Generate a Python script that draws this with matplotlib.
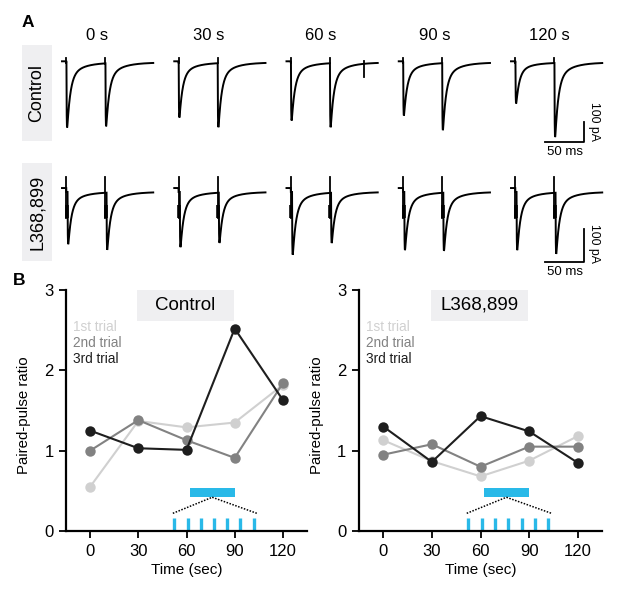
import numpy as np
import matplotlib
matplotlib.use("Agg")
import matplotlib.pyplot as plt
from matplotlib.patches import Rectangle

plt.rcParams['font.family'] = ['Liberation Sans', 'DejaVu Sans']

# ---- panel A data: EPSC peak amplitudes (pA)
time_labels = ['0 s', '30 s', '60 s', '90 s', '120 s']
ctrl_amp1 = [325, 275, 290, 265, 205]
ctrl_amp2 = [315, 320, 320, 335, 370]
l368_amp1 = [158, 167, 190, 176, 176]
l368_amp2 = [173, 152, 152, 176, 185]
# stray artifact in the control 60 s sweep: (column, ms into sweep, pA)
ctrl_glitch = (2, 99.0, -70.0)

# ---- panel B data: paired-pulse ratios
times = [0, 30, 60, 90, 120]
ctrl_ppr = {
    '1st trial': [0.55, 1.37, 1.29, 1.35, 1.82],
    '2nd trial': [1.00, 1.38, 1.13, 0.91, 1.84],
    '3rd trial': [1.25, 1.03, 1.01, 2.52, 1.63],
}
l368_ppr = {
    '1st trial': [1.13, 0.87, 0.68, 0.875, 1.18],
    '2nd trial': [0.95, 1.08, 0.80, 1.05, 1.05],
    '3rd trial': [1.30, 0.86, 1.43, 1.24, 0.85],
}
trial_colors = ['#d0d0d0', '#828282', '#1e1e1e']
stim_block = (62, 90)
stim_pulses = [52.5, 60.8, 69.0, 77.2, 85.4, 93.6, 101.8]

W, H = 617, 590
fig = plt.figure(figsize=(W / 100, H / 100), dpi=100)


def fx(px):
    return px / W


def fy(py):
    return 1 - py / H


# ---------------- panel A ----------------
PX_MS = 0.78          # pixels per ms
DT = 0.05
T_END = 117.0
TS1, TS2 = 5.5, 55.5
col_start = [(62 + i * 112.25) / PX_MS for i in range(5)]


def kernel(s, tr=0.3):
    return (0.8 * np.exp(-s / 4.0) + 0.2 * np.exp(-s / 17.0)) * (1 - np.exp(-s / tr))


KMAX = kernel(np.arange(0, 20, 0.01)).max()


def epsc(t, onset):
    s = np.clip(t - onset, 0, None)
    k = kernel(s) / KMAX
    k[t < onset] = 0
    return k


def draw_row(ax, amp1, amp2, delay, pre_off, art_up, art_block):
    t = np.arange(0, T_END, DT)
    for i in range(5):
        y = -(amp1[i] * epsc(t, TS1 + delay) + amp2[i] * epsc(t, TS2 + delay))
        y[t < TS1] = pre_off
        x0 = col_start[i]
        ax.plot(x0 + t, y, color='black', lw=1.4, solid_joinstyle='miter')
        for ts in (TS1, TS2):
            lo = art_block[1] if art_block else 0
            ax.plot([x0 + ts, x0 + ts], [lo, art_up], color='black', lw=1.3)
            if art_block:
                ax.plot([x0 + ts + 0.9, x0 + ts + 0.9], art_block,
                        color='black', lw=2.6, solid_capstyle='butt')


# control row axes (5 pA per pixel, baseline at y=62.5 px)
axA1 = fig.add_axes([0, fy(160), 1, 120 / H])
axA1.set_xlim(0, W / PX_MS)
axA1.set_ylim(-(160 - 62.5) * 5, (62.5 - 40) * 5)
axA1.axis('off')
draw_row(axA1, ctrl_amp1, ctrl_amp2, 0.2, 6, 25, None)
gc, gt, ga = ctrl_glitch
axA1.plot([col_start[gc] + gt] * 2, [ga, 6], color='black', lw=1.3)

# L368,899 row axes (3.03 pA per pixel, baseline at y=192 px)
pa = 100 / 33
axA2 = fig.add_axes([0, fy(285), 1, 125 / H])
axA2.set_xlim(0, W / PX_MS)
axA2.set_ylim(-(285 - 192) * pa, (192 - 160) * pa)
axA2.axis('off')
draw_row(axA2, l368_amp1, l368_amp2, 1.6, 12, 45, (-38, -80))

# scale bars
xb = 584 / PX_MS
axA1.plot([xb - 50, xb, xb], [-(142 - 62.5) * 5] * 2 + [-(142 - 62.5) * 5 + 100],
          color='black', lw=1.3)
axA2.plot([xb - 50, xb, xb], [-(262 - 192) * pa] * 2 + [-(262 - 192) * pa + 100],
          color='black', lw=1.3)
for yc, yt in [(121, 152), (243, 272)]:
    fig.text(fx(594), fy(yc), '100 pA', rotation=-90, ha='center', va='center',
             fontsize=8.8)
    fig.text(fx(565), fy(yt), '50 ms', ha='center', va='center', fontsize=9.5)

# column headers
for lab, xc in zip(time_labels, [97.5, 209, 320.5, 435, 549]):
    fig.text(fx(xc), fy(36), lab, ha='center', va='center', fontsize=12)

# row label boxes
for lab, y0, y1 in [('Control', 45, 141), ('L368,899', 163, 261)]:
    fig.add_artist(Rectangle((fx(22), fy(y1)), 30 / W, (y1 - y0) / H,
                             transform=fig.transFigure, color='#efeff1', lw=0))
    fig.text(fx(37), fy((y0 + y1) / 2), lab, rotation=90, ha='center',
             va='center', fontsize=13)

fig.text(fx(28), fy(22.5), 'A', ha='center', va='center', fontsize=12.5,
         fontweight='bold')
fig.text(fx(19.5), fy(281), 'B', ha='center', va='center', fontsize=12.5,
         fontweight='bold')


# ---------------- panel B ----------------
def ppr_panel(ax, data, title):
    for (lab, vals), c in zip(data.items(), trial_colors):
        ax.plot(times, vals, color=c, lw=1.5, marker='o', markersize=7.5,
                markeredgewidth=0, clip_on=False)
    for i, (lab, c) in enumerate(zip(data.keys(), trial_colors)):
        ax.text(0.03, 0.846 - i * 0.066, lab, color=c, fontsize=9.8,
                transform=ax.transAxes, va='center', ha='left')
    ax.add_patch(Rectangle((0.296, 0.872), 0.40, 0.128, transform=ax.transAxes,
                           color='#efeff1', lw=0, clip_on=False))
    ax.text(0.496, 0.936, title, transform=ax.transAxes, ha='center',
            va='center', fontsize=13.5)
    # stimulation block, zoom lines and pulses
    ax.add_patch(Rectangle((stim_block[0], 0.42), stim_block[1] - stim_block[0],
                           0.12, color='#29b9e8', lw=0))
    mid = (stim_block[0] + stim_block[1]) / 2
    ax.plot([stim_pulses[0] - 1, mid], [0.22, 0.42], color='black', lw=1.1,
            ls=(0, (1, 1)))
    ax.plot([mid, stim_pulses[-1] + 2], [0.42, 0.22], color='black', lw=1.1,
            ls=(0, (1, 1)))
    ax.vlines(stim_pulses, 0, 0.16, color='#29b9e8', lw=2.4)

    ax.set_xlim(-15, 135)
    ax.set_ylim(0, 3)
    ax.set_xticks(times)
    ax.set_yticks([0, 1, 2, 3])
    for s in ['top', 'right']:
        ax.spines[s].set_visible(False)
    for s in ['left', 'bottom']:
        ax.spines[s].set_linewidth(1.6)
    ax.tick_params(direction='out', length=5, width=1.3, labelsize=12, pad=4)
    ax.set_xlabel('Time (sec)', fontsize=11)
    ax.set_ylabel('Paired-pulse ratio', fontsize=10.8)
    ax.xaxis.set_label_coords(0.5, -0.133)
    ax.yaxis.set_label_coords(-0.145, 0.48)


axB1 = fig.add_axes([fx(66), fy(531), 241 / W, 241 / H])
axB2 = fig.add_axes([fx(359), fy(531), 243 / W, 241 / H])
ppr_panel(axB1, ctrl_ppr, 'Control')
ppr_panel(axB2, l368_ppr, 'L368,899')

fig.savefig('out.png', dpi=100)
